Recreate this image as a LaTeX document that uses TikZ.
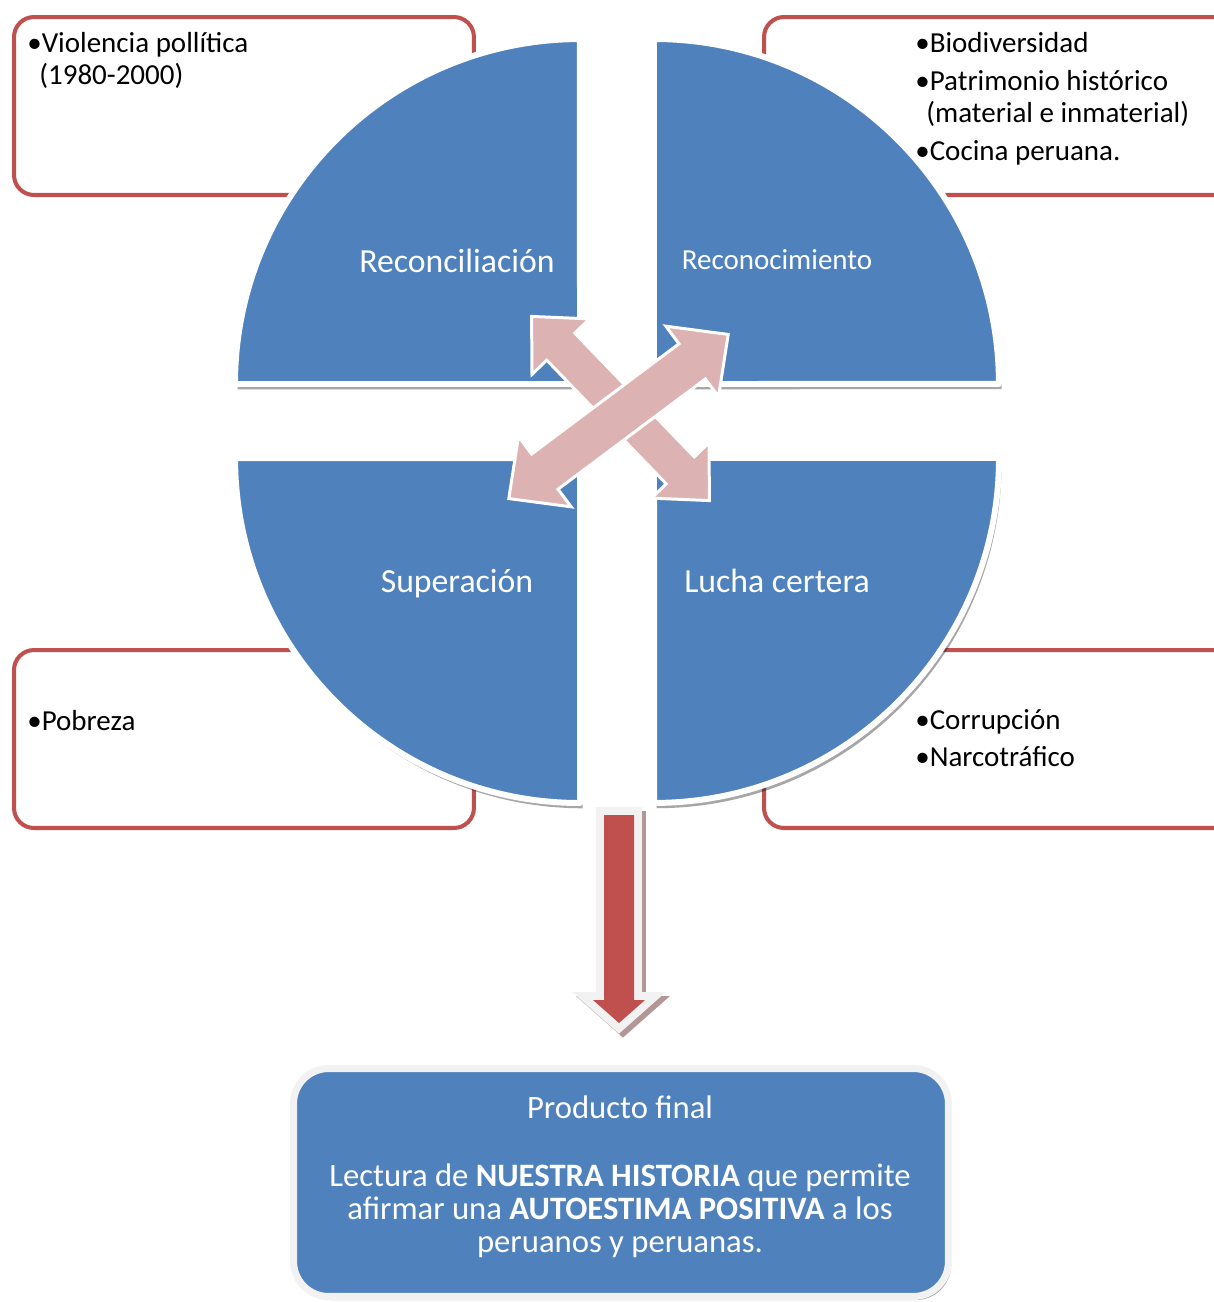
\documentclass[tikz,border=0pt]{standalone}
\usepackage{fontspec}
\setmainfont{Carlito}
\usepackage{tikz}
\usetikzlibrary{positioning,shadows}
\definecolor{quadblue}{HTML}{4F81BD}
\definecolor{boxred}{HTML}{C0504D}
\definecolor{crosspink}{HTML}{DDB2B2}
\definecolor{framegray}{HTML}{F2F2F2}
\definecolor{shadegray}{HTML}{B39696}
\newcommand{\crossarrow}[7]{%
  \filldraw[cross,shift={(#1,#2)},rotate=#3]
    (-#4,0) -- (-#4+#7,-#6) -- (-#4+#7,-#5) -- (#4-#7,-#5) -- (#4-#7,-#6)
    -- (#4,0) -- (#4-#7,#6) -- (#4-#7,#5) -- (-#4+#7,#5) -- (-#4+#7,#6) -- cycle;}

\begin{document}
\begin{tikzpicture}[x=0.02cm,y=-0.02cm,
    redbox/.style={draw=boxred,line width=2.3pt,rounded corners=0.4cm,fill=white,inner sep=0pt},
    quad/.style={fill=quadblue,draw=white,line width=3.4pt,line join=round,
      drop shadow={shadow xshift=1.5pt,shadow yshift=-3pt,opacity=0.35,fill=black}},
    bul/.style={anchor=base west,inner sep=0pt,font=\fontsize{16.5}{18}\selectfont},
    qlabel/.style={anchor=base,inner sep=0pt,text=white,font=\fontsize{19.2}{22}\selectfont},
    cross/.style={fill=crosspink,draw=white,line width=1.7pt,line join=miter},
    prodbox/.style={fill=quadblue,draw=framegray,line width=4pt,rounded corners=0.7cm,
      minimum width=13.1cm,minimum height=4.56cm,inner sep=0pt,
      drop shadow={shadow xshift=1.5pt,shadow yshift=-2pt,opacity=0.35,fill=black}},
    prodline/.style={anchor=base,inner sep=0pt,text=white,font=\fontsize{18.6}{20}\selectfont}]
    \useasboundingbox (0,0) rectangle (1214,1302);

    \node [redbox,anchor=north west,minimum width=9.2cm,minimum height=3.56cm] (violbox) at (12,15) {};
    \node [redbox,anchor=north west,minimum width=9.4cm,minimum height=3.56cm] (biobox) at (762,15) {};
    \node [redbox,anchor=north west,minimum width=9.2cm,minimum height=3.56cm] (pobbox) at (12,648) {};
    \node [redbox,anchor=north west,minimum width=9.4cm,minimum height=3.56cm] (corrbox) at (762,648) {};

    \node [bul] (viol1) at (27,52) {•Violencia pollítica};
    \node [bul] (viol2) at (39,84) {(1980-2000)};
    \node [bul] (bio) at (915,52) {•Biodiversidad};
    \node [bul] (patr1) at (915,90) {•Patrimonio histórico};
    \node [bul] (patr2) at (926,122) {(material e inmaterial)};
    \node [bul] (coc) at (915,160) {•Cocina peruana.};
    \node [bul] (pob) at (27,730) {•Pobreza};
    \node [bul] (corr) at (915,729) {•Corrupción};
    \node [bul] (narc) at (915,766) {•Narcotráfico};

    \filldraw [quad] (580,384) -- (235,384) arc [start angle=180,end angle=90,radius=6.9cm] -- cycle;
    \filldraw [quad] (654,384) -- (654,39) arc [start angle=90,end angle=0,radius=6.9cm] -- cycle;
    \filldraw [quad] (580,458) -- (580,803) arc [start angle=270,end angle=180,radius=6.9cm] -- cycle;
    \filldraw [quad] (654,458) -- (999,458) arc [start angle=0,end angle=-90,radius=6.9cm] -- cycle;

    \node [qlabel] (recon) at (457,272) {Reconciliación};
    \node [qlabel,font=\fontsize{16.5}{19}\selectfont] (recono) at (777,269) {Reconocimiento};
    \node [qlabel] (super) at (457,592) {Superación};
    \node [qlabel] (lucha) at (777,592) {Lucha certera};

    \crossarrow{620.5}{408.5}{-46}{128}{19.5}{40}{42}
    \crossarrow{618.5}{416.5}{36.8}{137}{22}{44}{45}

    \draw [shadegray,line width=9pt,line join=miter,shift={(4,4)}]
      (604,815) -- (634,815) -- (634,1000) -- (645,1000) -- (619,1023) -- (593,1000) -- (604,1000) -- cycle;
    \draw [framegray,line width=9pt,line join=miter]
      (604,815) -- (634,815) -- (634,1000) -- (645,1000) -- (619,1023) -- (593,1000) -- (604,1000) -- cycle;
    \fill [boxred]
      (604,815) -- (634,815) -- (634,1000) -- (645,1000) -- (619,1023) -- (593,1000) -- (604,1000) -- cycle;

    \node [prodbox] (prod) at (621,1182.5) {};
    \node [prodline] (prodA) at (620,1118) {Producto final};
    \node [prodline] (prodB) at (620,1186) {Lectura de \textbf{NUESTRA HISTORIA} que permite};
    \node [prodline] (prodC) at (620,1219) {afirmar una \textbf{AUTOESTIMA POSITIVA} a los};
    \node [prodline] (prodD) at (620,1252) {peruanos y peruanas.};
\end{tikzpicture}
\end{document}
